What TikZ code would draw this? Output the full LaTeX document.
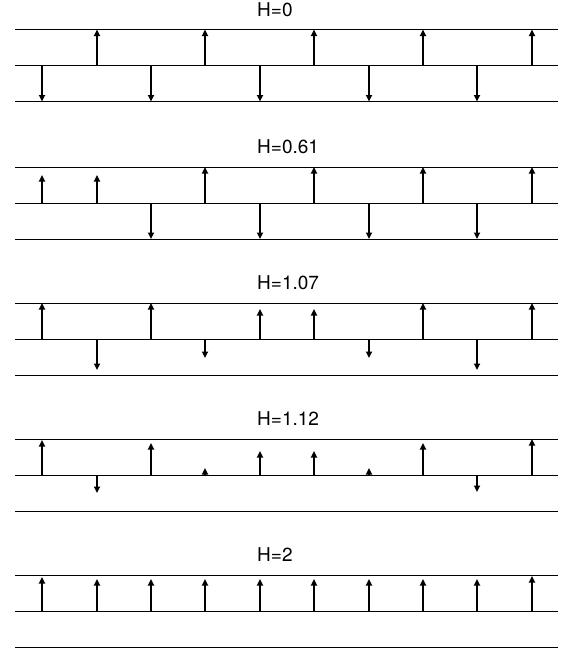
\documentclass[tikz,border=0pt]{standalone}
\usepackage{fontspec}
\setmainfont{TeX Gyre Heros}
\usetikzlibrary{arrows.meta}

\begin{document}
\begin{tikzpicture}[x=1pt, y=-1pt, >={Triangle[width=6pt,length=6.5pt]},
    level/.style={line width=0.8pt},
    spin/.style={->, line width=2pt},
    title/.style={anchor=base west, inner sep=0pt, font=\fontsize{19}{22}\selectfont}]
  \useasboundingbox (0,0) rectangle (566,654);
  % panel / field / top line / spins (up > 0, down < 0)
  \foreach \p/\ttl/\yt/\spins in {
      1/{H=0}/29.5/{-36,36,-36,36,-36,36,-36,36,-36,36},
      2/{H=0.61}/167/{28,28,-36,36,-36,36,-36,36,-36,36},
      3/{H=1.07}/303/{36,-31,36,-19,30,30,-19,36,-31,36},
      4/{H=1.12}/439/{35,-18,32,7,24,24,7,32,-17,36},
      5/{H=2}/575/{34,32,32,32,32,32,32,32,32,35}}{
    \node[title] (title\p) at (257,\yt-13.5) {\ttl};
    \draw[level] (15,\yt) -- (558,\yt);
    \draw[level] (15,\yt+36) -- (558,\yt+36);
    \draw[level] (15,\yt+72) -- (558,\yt+72);
    \foreach \s [count=\i from 0] in \spins {
      \coordinate (m\p-\i) at ({round(42.3+54.4*\i)},\yt+36);
      \draw[spin] (m\p-\i) -- ++(0,{0-(\s)});
    }
  }
\end{tikzpicture}
\end{document}
